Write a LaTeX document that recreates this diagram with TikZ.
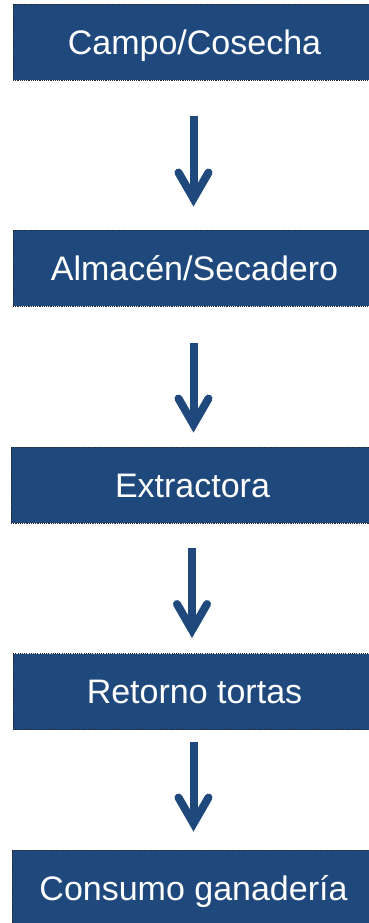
\documentclass[tikz,border=0pt]{standalone}
\usepackage{fontspec}
\setmainfont{Liberation Sans}
\usetikzlibrary{arrows.meta}
\definecolor{boxblue}{HTML}{1F497D}
\begin{document}
\begin{tikzpicture}[x=1pt,y=-1pt,
  stage/.style={fill=boxblue, draw=black!85, dash pattern=on 1.1pt off 1.1pt, line width=0.9pt,
    minimum width=363pt, minimum height=76pt, inner sep=0pt,
    text=white, font=\fontsize{34}{34}\selectfont, text height=24.3pt, text depth=0pt},
  flow/.style={draw=boxblue, line width=8pt,
    -{Straight Barb[length=26pt,width=30pt,line cap=round]}}]
\useasboundingbox (0,0) rectangle (369,923);
\node[stage] (b1) at (194.5,42) {Campo/Cosecha};
\node[stage] (b2) at (194.5,268) {Almacén/Secadero};
\node[stage] (b3) at (192.5,485) {Extractora};
\node[stage] (b4) at (194.5,691.5) {Retorno tortas};
\node[stage] (b5) at (193.5,888) {Consumo ganadería};
\draw[flow, shorten <=36pt, shorten >=23pt] ([xshift=-1pt]b1.south) -- ([xshift=-1pt]b2.north);
\draw[flow, shorten <=37pt, shorten >=14pt] ([xshift=-1pt]b2.south) -- ([xshift=1pt]b3.north);
\draw[flow, shorten <=25pt, shorten >=15pt] ([xshift=-0.5pt]b3.south) -- ([xshift=-2.5pt]b4.north);
\draw[flow, shorten <=12pt, shorten >=18pt] ([xshift=-1pt]b4.south) -- ([xshift=0pt]b5.north);
\end{tikzpicture}
\end{document}
